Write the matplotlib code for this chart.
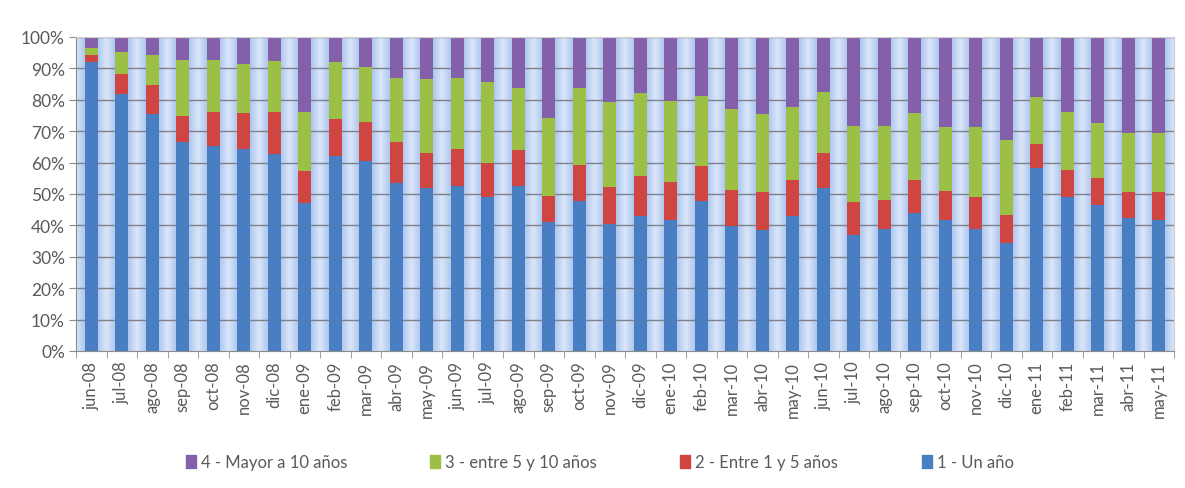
import numpy as np
import matplotlib
matplotlib.use("Agg")
import matplotlib.pyplot as plt
from matplotlib.colors import LinearSegmentedColormap
from matplotlib.patches import Patch

months = ["jun-08", "jul-08", "ago-08", "sep-08", "oct-08", "nov-08", "dic-08",
          "ene-09", "feb-09", "mar-09", "abr-09", "may-09", "jun-09", "jul-09",
          "ago-09", "sep-09", "oct-09", "nov-09", "dic-09", "ene-10", "feb-10",
          "mar-10", "abr-10", "may-10", "jun-10", "jul-10", "ago-10", "sep-10",
          "oct-10", "nov-10", "dic-10", "ene-11", "feb-11", "mar-11", "abr-11",
          "may-11"]

un_anio = [92.0, 82.0, 75.5, 66.5, 65.4, 64.3, 62.7, 47.1, 62.2, 60.6, 53.5, 51.8,
           52.4, 48.9, 52.4, 41.0, 47.9, 40.4, 42.9, 41.7, 47.7, 39.7, 38.6, 43.0,
           51.8, 37.0, 38.9, 43.9, 41.7, 38.9, 34.3, 58.3, 48.9, 46.6, 42.4, 41.7]
entre_1_5 = [2.3, 6.2, 9.3, 8.4, 10.8, 11.4, 13.5, 10.1, 11.7, 12.2, 13.0, 11.2,
             11.9, 11.0, 11.6, 8.5, 11.4, 11.9, 12.9, 12.0, 11.3, 11.6, 11.9, 11.6,
             11.2, 10.6, 9.2, 10.7, 9.4, 10.0, 9.0, 7.6, 8.7, 8.5, 8.3, 8.8]
entre_5_10 = [2.1, 7.1, 9.5, 17.9, 16.6, 15.7, 16.3, 19.0, 18.0, 17.5, 20.5, 23.6,
              22.5, 25.9, 19.7, 24.6, 24.4, 27.1, 26.4, 26.0, 22.1, 25.8, 25.1, 23.0,
              19.4, 24.2, 23.4, 21.1, 20.1, 22.5, 23.9, 14.9, 18.6, 17.4, 18.7, 18.9]
mayor_10 = [3.6, 4.7, 5.7, 7.2, 7.2, 8.6, 7.5, 23.8, 8.1, 9.7, 13.0, 13.4,
            13.2, 14.2, 16.3, 25.9, 16.3, 20.6, 17.8, 20.3, 18.9, 22.9, 24.4, 22.4,
            17.6, 28.2, 28.5, 24.3, 28.8, 28.6, 32.8, 19.2, 23.8, 27.5, 30.6, 30.6]

series_labels = ["1 - Un año", "2 - Entre 1 y 5 años", "3 - entre 5 y 10 años", "4 - Mayor a 10 años"]
colors = ["#4a7ec2", "#cf4541", "#9bc045", "#8460aa"]

plt.rcParams['font.family'] = ['Lato', 'DejaVu Sans']
txt = "#5a5a5a"

fig = plt.figure(figsize=(11.85, 4.89), dpi=100)
ax = fig.add_axes([76/1185, (489-352)/489, (1174-76)/1185, (352-38)/489])

n = len(months)
x = np.arange(n)

# striped gradient background
res = 400
xs = np.linspace(-0.5, n - 0.5, n * res)
d = np.abs(xs - np.round(xs))
t = np.clip((d - 0.2) / 0.3, 0, 1)
cmap = LinearSegmentedColormap.from_list("bg", ["#adc5ee", "#c3d6f4", "#dbe6f9"])
ax.imshow(t[np.newaxis, :], aspect="auto", cmap=cmap, extent=(-0.5, n - 0.5, 0, 100),
          origin="lower", zorder=0, interpolation="bilinear")

for yv in range(10, 101, 10):
    ax.axhline(yv, color="#80808a", lw=1.0, zorder=1)

bottom = np.zeros(n)
for vals, col in zip([un_anio, entre_1_5, entre_5_10, mayor_10], colors):
    ax.bar(x, vals, width=0.44, bottom=bottom, color=col, zorder=2, linewidth=0)
    bottom += np.array(vals)

ax.set_xlim(-0.5, n - 0.5)
ax.set_ylim(0, 100)
ax.set_yticks(range(0, 101, 10))
ax.set_yticklabels([f"{v}%" for v in range(0, 101, 10)], fontsize=12.5, color=txt)
ax.set_xticks(x)
ax.set_xticklabels(months, rotation=90, fontsize=12, color=txt)
ax.set_xticks(np.arange(-0.5, n, 1), minor=True)
ax.tick_params(axis="x", which="major", length=0, pad=7)
ax.tick_params(axis="x", which="minor", length=5, color="#8c8c8c", direction="out")
ax.tick_params(axis="y", length=5, color="#8c8c8c", direction="out", pad=3)
for s in ["left", "bottom"]:
    ax.spines[s].set_color("#8c8c8c")
for s in ["top", "right"]:
    ax.spines[s].set_color("#d0d0d0")

handles = [Patch(color=colors[i], label=series_labels[i]) for i in [3, 2, 1, 0]]
leg = fig.legend(handles=handles, loc="center", bbox_to_anchor=(0.506, 0.053), ncol=4,
                 frameon=False, fontsize=12, handlelength=0.6, handleheight=0.8,
                 handletextpad=0.3, columnspacing=5.0)
for tx in leg.get_texts():
    tx.set_color(txt)

fig.savefig("out.png", dpi=100)
